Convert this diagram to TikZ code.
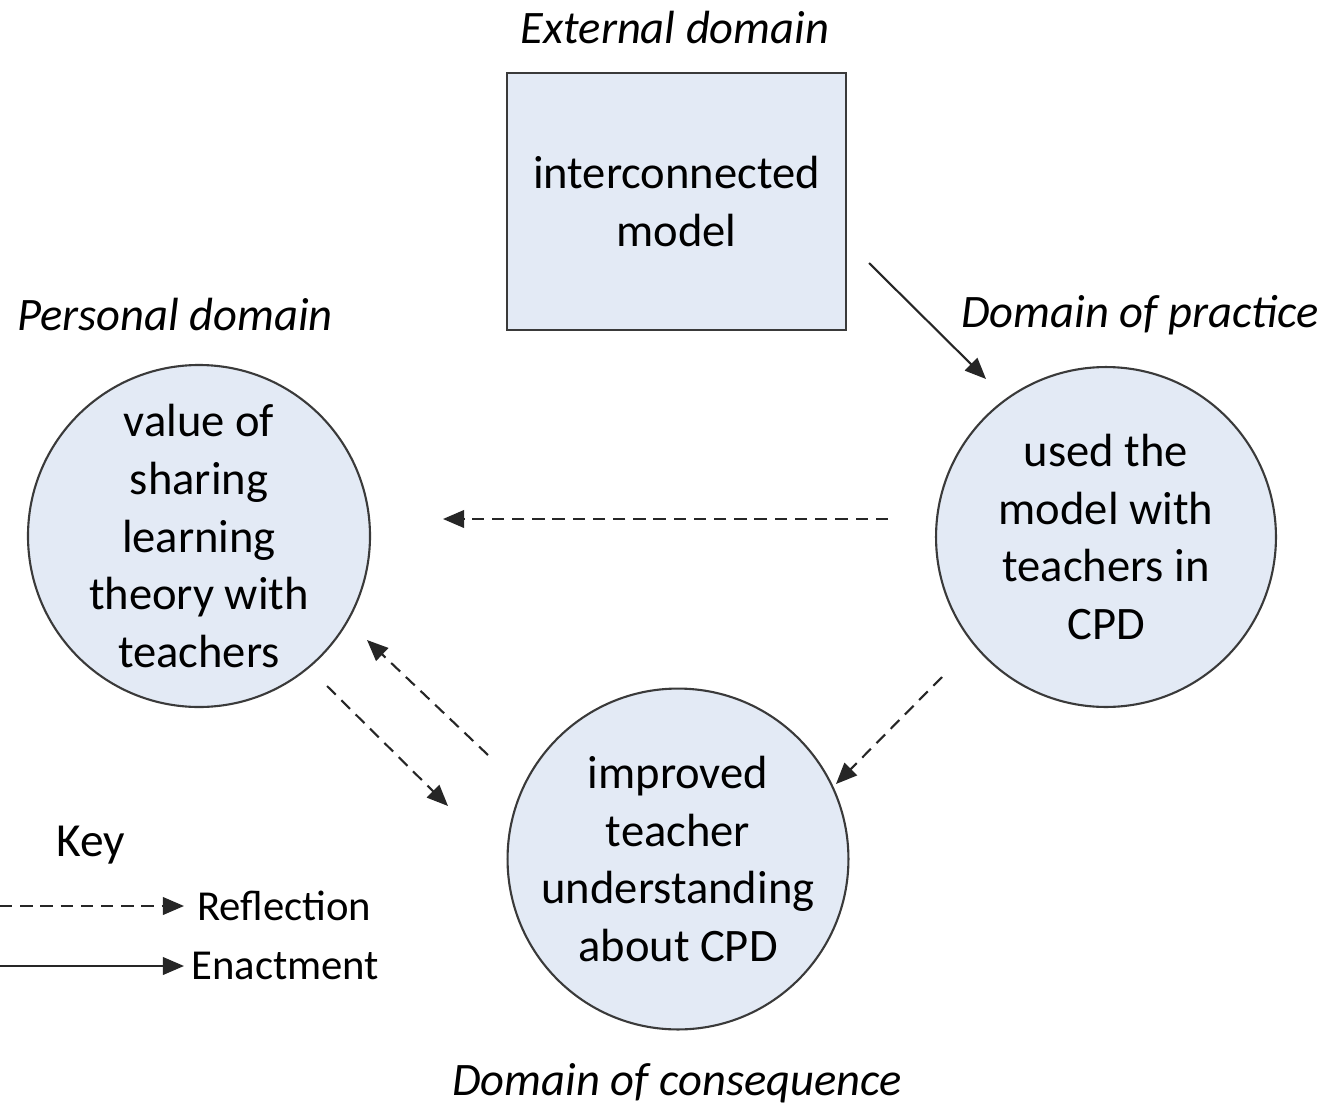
\documentclass[tikz,border=0pt]{standalone}
\usepackage{fontspec}
\setmainfont{Carlito}
\usepackage{tikz}
\usetikzlibrary{arrows.meta, positioning, calc}
\definecolor{DomainFill}{HTML}{E3EAF5}
\definecolor{DomainEdge}{HTML}{3A3A3A}
\tikzset{
  % Box styles
  domainbox/.style={rectangle, draw=DomainEdge, fill=DomainFill, line width=1.2pt, minimum width=6.78cm, minimum height=5.14cm, inner sep=0pt, align=center, font=\fontsize{26.5}{32.8}\selectfont},
  domaincircle/.style={circle, draw=DomainEdge, fill=DomainFill, line width=1.2pt, minimum size=6.8cm, inner sep=0pt, align=center, font=\fontsize{26.5}{32.8}\selectfont},
  % Label styles
  domainlabel/.style={font=\fontsize{26.5}{32}\selectfont\itshape},
  keylabel/.style={font=\fontsize{24.3}{28}\selectfont, anchor=west, inner sep=0pt},
  % Arrow styles
  enactarrow/.style={-{Triangle[length=12pt,width=10pt]}, line width=1.2pt, black!85},
  reflectarrow/.style={enactarrow, dash pattern=on 7pt off 4.5pt}
}
\begin{document}
\begin{tikzpicture}[x=0.02cm, y=-0.02cm]
  \useasboundingbox (0,0) rectangle (1326,1109);

  % Domains
  \node[domainbox] (external) at (676.5,201.5) {interconnected\\model};
  \node[domaincircle] (personal) at (199,536) {value of\\sharing\\learning\\theory with\\teachers};
  \node[domaincircle] (practice) at (1106,537) {used the\\model with\\teachers in\\CPD};
  \node[domaincircle] (consequence) at (678,859) {improved\\teacher\\understanding\\about CPD};

  % Domain labels
  \node[domainlabel] (extlabel) at (675,28) {External domain};
  \node[domainlabel] (perslabel) at (175,315) {Personal domain};
  \node[domainlabel] (praclabel) at (1140,315) {Domain of practice};
  \node[domainlabel] (conslabel) at (677,1083) {Domain of consequence};

  % Arrow ends
  \coordinate (e1) at (869,263);
  \coordinate (e2) at (986,379);
  \coordinate (r1) at (888,519);
  \coordinate (r2) at (443,519);
  \coordinate (r3) at (942,677);
  \coordinate (r4) at (836,784);
  \coordinate (r5) at (488,755);
  \coordinate (r6) at (367,640);
  \coordinate (r7) at (327,686);
  \coordinate (r8) at (448,806);

  % Connections
  \draw[enactarrow] (e1) -- (e2);
  \draw[reflectarrow] (r1) -- (r2);
  \draw[reflectarrow] (r3) -- (r4);
  \draw[reflectarrow] (r5) -- (r6);
  \draw[reflectarrow] (r7) -- (r8);

  % Key
  \node[font=\fontsize{27}{32}\selectfont] (key) at (91,845) {Key};
  \coordinate (k1) at (0,906);
  \coordinate (k2) at (184,906);
  \coordinate (k3) at (0,966);
  \coordinate (k4) at (184,966);
  \draw[reflectarrow] (k1) -- (k2);
  \draw[enactarrow] (k3) -- (k4);
  \node[keylabel] (reflection) at (197,906) {Reflection};
  \node[keylabel] (enactment) at (191,966) {Enactment};
\end{tikzpicture}
\end{document}
